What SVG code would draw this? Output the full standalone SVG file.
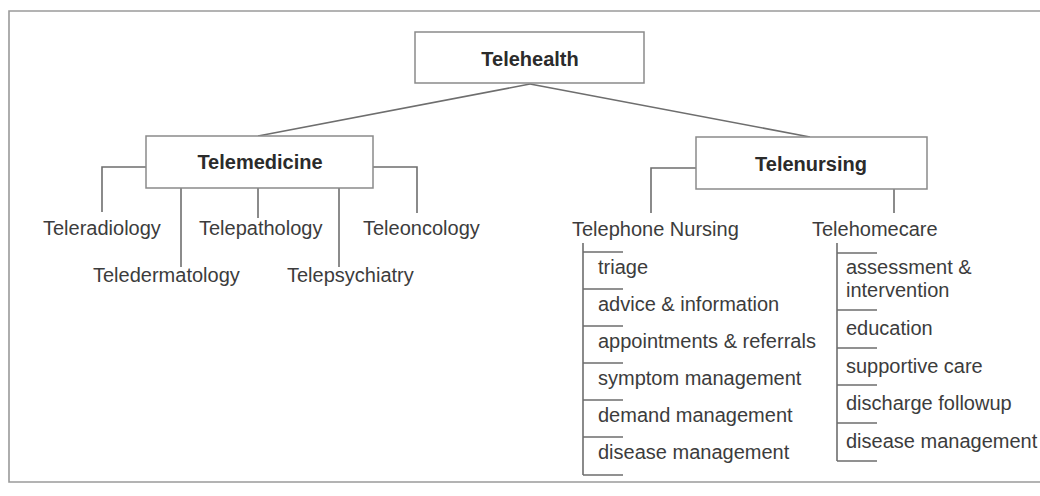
<svg xmlns="http://www.w3.org/2000/svg" width="1040" height="496" viewBox="0 0 1040 496">
<style>
.box{fill:#fff;stroke:#8a8a8a;stroke-width:1.5}
.ttl{font-family:"Liberation Sans",Arial,sans-serif;font-weight:bold;font-size:20px;fill:#2b2b2b;text-anchor:middle}
.lbl{font-family:"Liberation Sans",Arial,sans-serif;font-size:20px;fill:#3c3c3c}
.ln{fill:none;stroke:#6e6e6e;stroke-width:1.6}
.frame{fill:none;stroke:#9a9a9a;stroke-width:1.6}
</style>
<rect width="1040" height="496" fill="#fff"/>
<path class="frame" d="M1040,11 H9 V482 H1040"/>
<g id="connectors">
<path class="ln" d="M530,84 L258,136"/>
<path class="ln" d="M530,84 L810,137"/>
<path class="ln" d="M146,167 H102 V212"/>
<path class="ln" d="M181,188 V267"/>
<path class="ln" d="M258,188 V218"/>
<path class="ln" d="M339,188 V267"/>
<path class="ln" d="M373,167 H417 V213"/>
<path class="ln" d="M696,168 H651 V213"/>
<path class="ln" d="M894,189 V213"/>
<path class="ln" d="M583,243 V475 M583,252 H623 M583,289 H623 M583,326 H623 M583,363 H623 M583,400 H623 M583,437 H623 M583,475 H623"/>
<path class="ln" d="M837,243 V461 M837,253 H877 M837,310 H877 M837,348 H877 M837,385 H877 M837,423 H877 M837,461 H877"/>
</g>
<g id="telehealth">
<rect class="box" x="415" y="32" width="229" height="51"/>
<text class="ttl" x="530" y="66">Telehealth</text>
</g>
<g id="telemedicine">
<rect class="box" x="146" y="136" width="227" height="52"/>
<text class="ttl" x="260" y="169">Telemedicine</text>
</g>
<g id="telenursing">
<rect class="box" x="696" y="137" width="231" height="52"/>
<text class="ttl" x="811" y="171">Telenursing</text>
</g>
<g id="teleradiology"><text class="lbl" x="43" y="235">Teleradiology</text></g>
<g id="teledermatology"><text class="lbl" x="93" y="282">Teledermatology</text></g>
<g id="telepathology"><text class="lbl" x="199" y="235">Telepathology</text></g>
<g id="telepsychiatry"><text class="lbl" x="287" y="282">Telepsychiatry</text></g>
<g id="teleoncology"><text class="lbl" x="363" y="235">Teleoncology</text></g>
<g id="telephone-nursing">
<text class="lbl" x="572" y="236">Telephone Nursing</text>
<text class="lbl" x="598" y="274">triage</text>
<text class="lbl" x="598" y="311">advice &amp; information</text>
<text class="lbl" x="598" y="348">appointments &amp; referrals</text>
<text class="lbl" x="598" y="385">symptom management</text>
<text class="lbl" x="598" y="422">demand management</text>
<text class="lbl" x="598" y="459">disease management</text>
</g>
<g id="telehomecare">
<text class="lbl" x="812" y="236">Telehomecare</text>
<text class="lbl" x="846" y="274">assessment &amp;</text>
<text class="lbl" x="846" y="297">intervention</text>
<text class="lbl" x="846" y="335">education</text>
<text class="lbl" x="846" y="373">supportive care</text>
<text class="lbl" x="846" y="410">discharge followup</text>
<text class="lbl" x="846" y="448">disease management</text>
</g>
</svg>
